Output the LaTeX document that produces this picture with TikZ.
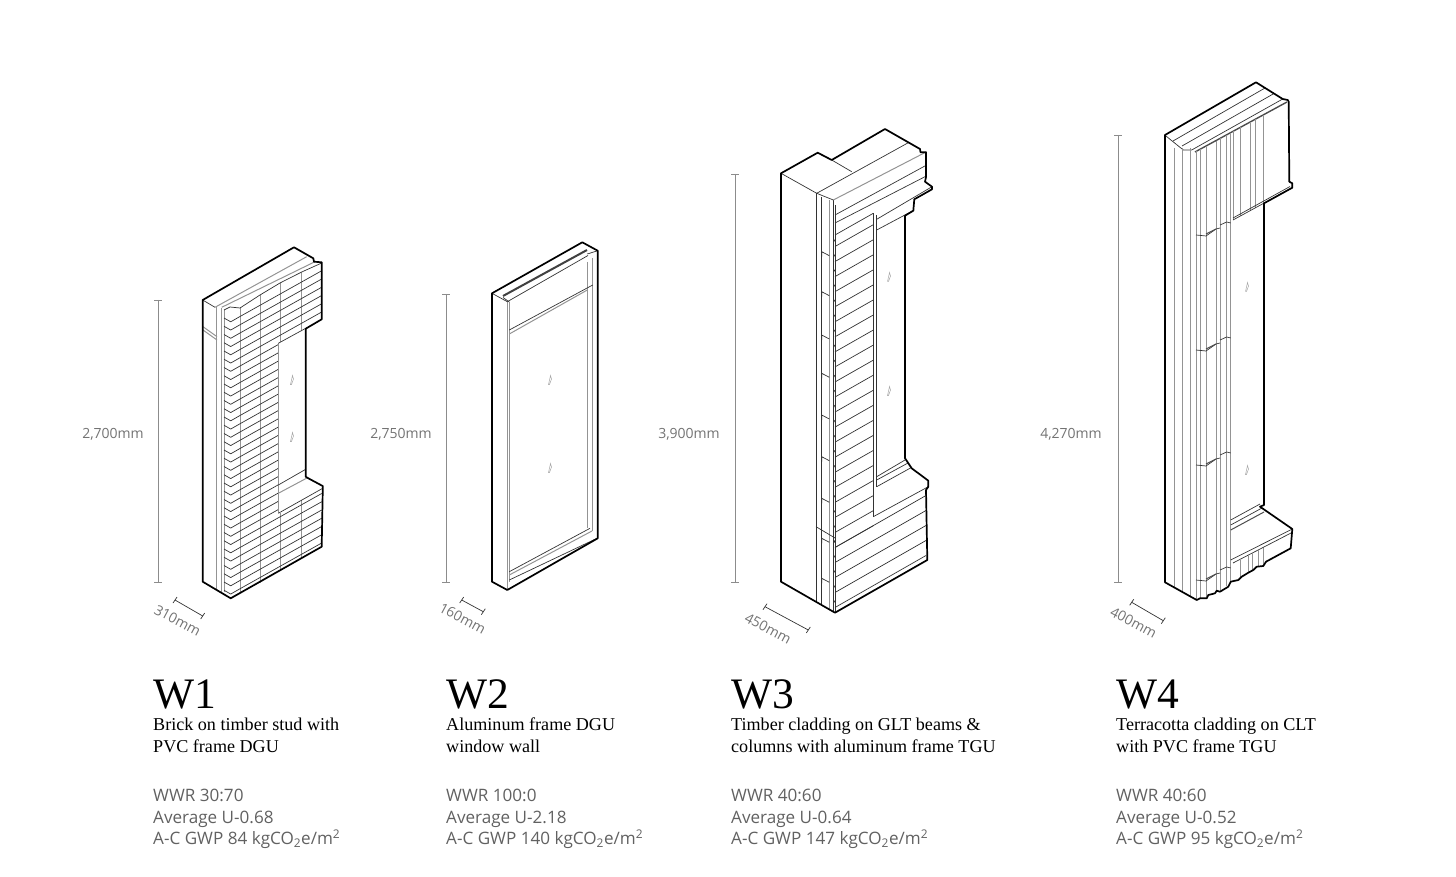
\documentclass[tikz,border=0pt]{standalone}
\usepackage{fontspec}
\setmainfont{Liberation Serif}
\newfontfamily\infofont{Open Sans}
\usetikzlibrary{arrows}
\tikzset{
  outline/.style = {line width=1.7pt, line join=round, line cap=round},
  fine/.style = {line width=0.7pt, black!80},
  soft/.style = {line width=1pt, black!42},
  dimline/.style = {line width=0.8pt, black!45},
  walltitle/.style = {anchor=base west, inner sep=0pt, font=\fontsize{43.5}{44}\selectfont},
  walldesc/.style = {anchor=north west, inner sep=0pt, align=left, font=\fontsize{18.1}{21.6}\selectfont},
  wallinfo/.style = {anchor=north west, inner sep=0pt, align=left, text=black!62, font=\infofont\fontsize{17.1}{21.9}\selectfont},
  dimtext/.style = {inner sep=0pt, text=black!55, font=\infofont\fontsize{14}{14}\selectfont}
}
\newcommand{\glassmark}[2]{
  \draw[line width=0.5pt, black!35] (#1-1.5,#2+4.5) -- (#1+0.5,#2-4.5) -- (#1+1.5,#2-1) -- (#1-0.5,#2+4.5) -- cycle;
}
\newcommand{\heightdim}[3]{
  \draw[dimline] (#1,#2) -- (#1,#3);
  \draw[dimline] (#1-4,#2) -- (#1+4,#2);
  \draw[dimline] (#1-4,#3) -- (#1+4,#3);
}
\begin{document}
\begin{tikzpicture}[x=1pt, y=-1pt]
\useasboundingbox (0,0) rectangle (1456,877);

% W1
\heightdim{158}{300}{582}
\node[dimtext] (w1height) at (113,434.5) {2,700mm};
\draw[fine] (175,600) -- (202.7,616);
\draw[fine] (173,603) -- (177,597);
\draw[fine] (200.7,619) -- (204.7,613);
\node[dimtext, rotate=-28] (w1depth) at (177.5,620.5) {310mm};
\draw[soft] (216.5,306) -- (216.5,590);
\draw[soft] (221,308) -- (221,592);
\draw[soft] (203,326.7) -- (217,336.7);
\draw[soft] (203,330) -- (217,340);
\draw[soft] (224,310) -- (224,592);
\draw[soft] (240,307) -- (240,593);
\draw[soft] (260,295) -- (260,583);
\draw[soft] (280,283) -- (280,342);
\draw[soft] (280,513) -- (280,571);
\draw[soft] (301.7,272) -- (301.7,330);
\draw[soft] (301.7,500) -- (301.7,558);
\draw[fine] (202.7,300) -- (215,307.3);
\draw[soft] (215,307.3) -- (306.7,256.7);
\draw[soft] (221.7,307.3) -- (315,261.7);
\draw[fine] (224,310) -- (230,307) -- (240,308) -- (260,295) -- (280,283) -- (301.7,272) -- (321.7,263);
\foreach \y in {0,...,33}{
  \pgfmathsetmacro{\ya}{316.5+8.25*\y}
  \pgfmathsetmacro{\xe}{(\ya>365 && \ya<535) ? 278 : 321.7}
  \pgfmathsetmacro{\ye}{\ya-0.56*(\xe-240)}
  \draw[fine] (224,\ya+1.5) -- (230.7,\ya+5.3) -- (240,\ya) -- (\xe,\ye);
}
\draw[soft] (278,343) -- (278,513);
\draw[fine] (278.3,485) -- (305.7,469.3);
\draw[soft] (278.3,493.3) -- (308.3,477.3);
\draw[fine] (278.3,513.3) -- (322.7,488.3);
\draw[fine] (278.3,343.3) -- (305.7,328.3);
\glassmark{292}{380}
\glassmark{292}{437}
\draw[outline] (230.7,598.3) -- (202.7,581.7) -- (202.7,300) -- (294,247.3) -- (313.3,258.3) -- (314,261.7) -- (321.7,262.3) -- (321.7,319.3) -- (305.7,328.7) -- (305.7,476.7) -- (308.3,478.3) -- (322.7,486) -- (322.7,493) -- (321.7,546.7) -- cycle;

% W2
\heightdim{446}{294}{582}
\node[dimtext] (w2height) at (401,434.5) {2,750mm};
\draw[fine] (461.7,600) -- (483.3,611.7);
\draw[fine] (459.7,603) -- (463.7,597);
\draw[fine] (481.3,614.7) -- (485.3,608.7);
\node[dimtext, rotate=-28] (w2depth) at (462.5,618.5) {160mm};
\draw[soft] (507.3,301.7) -- (507.3,590);
\draw[soft] (509.5,302) -- (509.5,582);
\draw[soft] (587.3,262) -- (587.3,528.3);
\draw[soft] (592.7,258.3) -- (592.7,531);
\draw[fine] (492,293.3) -- (507.3,301.7);
\draw[fine] (509.3,330) -- (592.7,285);
\draw[soft] (509.3,334) -- (587.3,290);
\draw[fine] (509.3,571.7) -- (590,528.3);
\draw[soft] (509.3,575) -- (592,531);
\draw[fine] (509.3,580) -- (597.7,538);
\draw[line width=2pt, black!75] (503,296) -- (587,250);
\draw[fine] (507.3,301.7) -- (588,255.5);
\draw[fine] (503,297.5) -- (509.3,302);
\draw[fine] (587.3,254) -- (597.7,250.7);
\glassmark{550}{380}
\glassmark{550}{468}
\draw[outline] (507.3,590) -- (492,581.7) -- (492,293.3) -- (582.3,242.3) -- (597.7,250.7) -- (597.7,538.3) -- cycle;

% W3
\heightdim{735}{174}{582}
\node[dimtext] (w3height) at (689,434.5) {3,900mm};
\draw[fine] (765,606.7) -- (808.3,630);
\draw[fine] (763,609.7) -- (767,603.7);
\draw[fine] (806.3,633) -- (810.3,627);
\node[dimtext, rotate=-28] (w3depth) at (768,628.5) {450mm};
\draw[fine] (781,173.3) -- (816.7,193.3);
\draw[fine] (831.7,160) -- (851.7,171.7);
\draw[fine] (816.7,193.3) -- (908.3,142.7);
\draw[fine] (816,193) -- (816,601.8);
\draw[fine] (821.7,197) -- (821.7,605);
\draw[soft] (829.3,200) -- (829.3,609.5);
\draw[fine] (833.3,200) -- (833.3,611.7);
\draw[fine] (835,205) -- (835,612.7);
\draw[fine] (816.7,193.3) -- (833.3,200);
\draw[soft] (833.3,200) -- (926.7,151.7);
\draw[fine] (835,215) -- (926.7,165);
\draw[fine] (835,223) -- (925,176.7);
\draw[fine] (835,235) -- (873.3,213.3);
\draw[fine] (876.7,219.3) -- (932,186.7);
\draw[fine] (876.7,230) -- (914.3,210);
\draw[fine] (816,526.7) -- (835,538);
\foreach \y in {0,...,20}{
  \pgfmathsetmacro{\ya}{246.5+15.05*\y}
  \draw[fine] (835,\ya) -- (873.3,\ya-21.8);
  \draw[fine] (833.3,\ya-4) -- (835,\ya-7);
}
\foreach \y in {0,...,4}{
  \pgfmathsetmacro{\ya}{547.5+15*\y}
  \draw[fine] (835,\ya) -- (926,\ya-52);
  \draw[fine] (833.3,\ya-4) -- (835,\ya-7);
}
\foreach \y in {251.7,291.7,335,373.3,415,456.7,498.3,538.3,578.3}{
  \draw[fine] (821.7,\y) -- (821.7,\y+5) (821.7,\y) -- (829.3,\y+4);
}
\draw[fine] (873.3,213.3) -- (873.3,516.7);
\draw[fine] (876.7,215) -- (876.7,487);
\draw[fine] (876.7,476.7) -- (905,460);
\draw[fine] (876.7,480) -- (908,463);
\draw[fine] (876.7,486.7) -- (911.7,467.3);
\draw[fine] (873.3,516.7) -- (928.3,486.7);
\glassmark{889}{277}
\glassmark{889}{391}
\draw[outline] (835,612.7) -- (781,581.7) -- (781,173.3) -- (817.7,152.7) -- (831.7,160) -- (885,129) -- (920,149) -- (920.5,152.3) -- (926,152.3) -- (926,177) -- (925,181.7) -- (932,186.7) -- (932,189.3) -- (914.3,199.3) -- (913.3,210.7) -- (905,215.7) -- (905,458.3) -- (911.7,468.3) -- (928.3,480.7) -- (928.3,486.7) -- (926,490) -- (927.3,560) -- cycle;

% W4
\heightdim{1118}{135}{582}
\node[dimtext] (w4height) at (1071,434.5) {4,270mm};
\draw[fine] (1131.7,602.3) -- (1163.3,620.7);
\draw[fine] (1129.7,605.3) -- (1133.7,599.3);
\draw[fine] (1161.3,623.7) -- (1165.3,617.7);
\node[dimtext, rotate=-28] (w4depth) at (1133.5,622.5) {400mm};
\draw[fine] (1164.7,135) -- (1183.3,150) -- (1191.7,150) -- (1282.7,99);
\draw[fine] (1173,141) -- (1265,88);
\draw[fine] (1182,146) -- (1274,93.5);
\draw[line width=1.4pt, black!70] (1195,152) -- (1287,102);
\foreach \x/\yb in {1174/587.3,1182.7/592.2,1190.7/596.7}{
  \draw[soft] (\x,148) -- (\x,\yb);
}
\foreach \x/\yb in {1196/600,1200/598,1206/597,1216/591,1220/591,1226.7/586,1230.7/582}{
  \pgfmathsetmacro{\yt}{152-0.545*(\x-1195)}
  \draw[soft] (\x,\yt) -- (\x,\yb);
}
\foreach \y in {235,350,465,580}{
  \draw[fine] (1196,\y) -- (1206,\y+1) -- (1216,\y-6) -- (1220,\y-7);
  \draw[line width=1pt, black!70] (1206,\y-1) -- (1216,\y-6);
  \draw[fine] (1220,\y-10) -- (1226.7,\y-13) -- (1230.7,\y-12);
}
\foreach \x in {1233.3,1240,1250,1255,1263.3}{
  \pgfmathsetmacro{\yt}{152-0.545*(\x-1195)}
  \pgfmathsetmacro{\yb}{220-0.54*(\x-1233)}
  \draw[soft] (\x,\yt) -- (\x,\yb);
}
\draw[fine] (1233,220) -- (1292.3,187.7);
\draw[fine] (1233,218) -- (1290,186.5);
\draw[fine] (1230.7,520) -- (1260,504);
\draw[fine] (1230.7,525) -- (1262,508);
\draw[line width=1pt, black!70] (1230.7,530) -- (1264,512);
\draw[fine] (1230.7,560) -- (1292.3,529);
\draw[fine] (1233,563) -- (1291,533);
\foreach \x/\yt/\yb in {1240/559.4/577,1248/555/572,1252/553/570,1258/550/566,1263/547.5/565}{
  \draw[soft] (\x,\yt) -- (\x,\yb);
}
\glassmark{1247}{287}
\glassmark{1247}{470}
\draw[outline] (1196.7,600) -- (1165,582.3) -- (1165,135) -- (1256,82.3) -- (1282.7,99) -- (1287.7,100) -- (1288.7,101.7) -- (1289.3,181.7) -- (1292.3,183.3) -- (1292.3,187.7) -- (1264,203.3) -- (1264,505) -- (1260,506.7) -- (1292.3,529) -- (1290.7,548.3) -- (1266,561.7) -- (1263.3,566) -- (1256.7,566.7) -- (1253.3,570) -- (1248.3,572.7) -- (1241.7,576.7) -- (1238.3,580) -- (1230.7,581.7) -- (1228.3,586.7) -- (1220,591.7) -- (1216.7,590.7) -- (1215,593.3) -- (1208.3,595) -- (1206.7,598.3) -- (1200,598.3) -- cycle;

% labels
\node[walltitle] (w1title) at (153,708.5) {W1};
\node[walltitle] (w2title) at (446,708.5) {W2};
\node[walltitle] (w3title) at (731,708.5) {W3};
\node[walltitle] (w4title) at (1116,708.5) {W4};
\node[walldesc] (w1desc) at (153,718) {Brick on timber stud with\\PVC frame DGU};
\node[walldesc] (w2desc) at (446,718) {Aluminum frame DGU\\window wall};
\node[walldesc] (w3desc) at (731,718) {Timber cladding on GLT beams \&\\columns with aluminum frame TGU};
\node[walldesc] (w4desc) at (1116,718) {Terracotta cladding on CLT\\with PVC frame TGU};
\node[wallinfo] (w1info) at (153,788.5) {WWR 30:70\\Average U-0.68\\A-C GWP 84 kgCO\textsubscript{2}e/m\textsuperscript{2}};
\node[wallinfo] (w2info) at (446,788.5) {WWR 100:0\\Average U-2.18\\A-C GWP 140 kgCO\textsubscript{2}e/m\textsuperscript{2}};
\node[wallinfo] (w3info) at (731,788.5) {WWR 40:60\\Average U-0.64\\A-C GWP 147 kgCO\textsubscript{2}e/m\textsuperscript{2}};
\node[wallinfo] (w4info) at (1116,788.5) {WWR 40:60\\Average U-0.52\\A-C GWP 95 kgCO\textsubscript{2}e/m\textsuperscript{2}};
\end{tikzpicture}
\end{document}
